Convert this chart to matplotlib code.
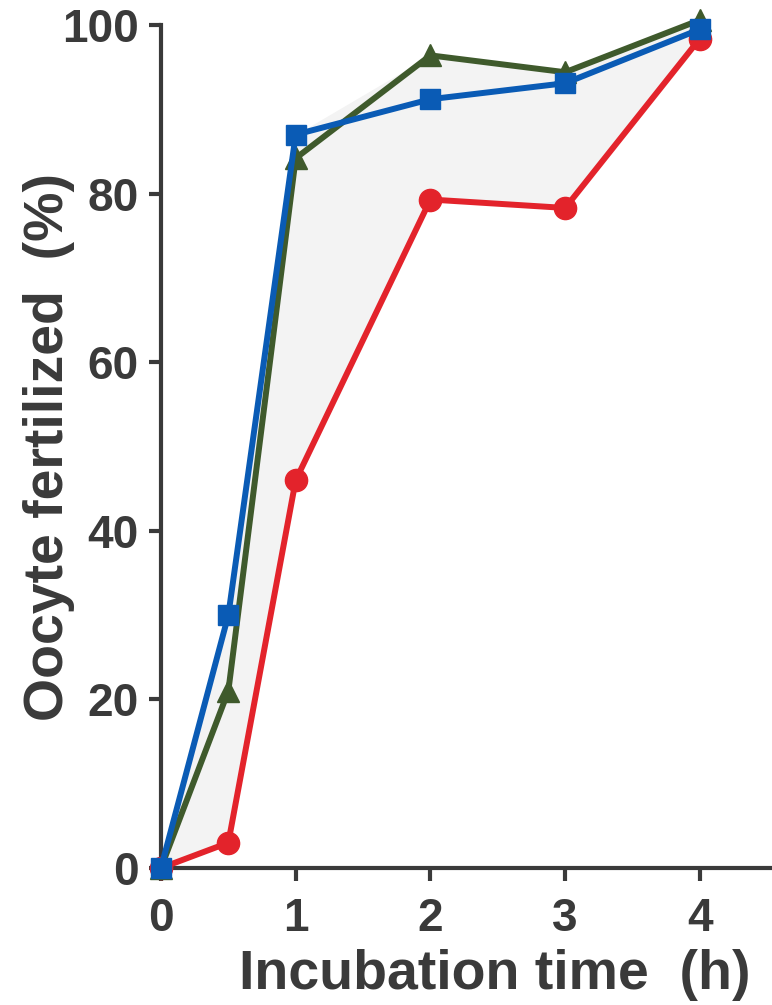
import numpy as np
import matplotlib
matplotlib.use("Agg")
import matplotlib.pyplot as plt

# incubation time (h)
time_h = [0, 0.5, 1, 2, 3, 4]

# oocytes fertilized (%)
red_circle = [0, 3, 46, 79.3, 78.3, 98.4]
green_triangle = [0, 21, 84.2, 96.4, 94.4, 100.6]
blue_square = [0, 30, 87, 91.2, 93.1, 99.5]

x_ticks = [0, 1, 2, 3, 4]
y_ticks = [0, 20, 40, 60, 80, 100]

plt.rcParams['font.family'] = ['Liberation Sans', 'DejaVu Sans']
plt.rcParams['font.weight'] = 'bold'
ink = '#3a3a3a'

fig = plt.figure(figsize=(7.72, 10.05), dpi=100)
ax = fig.add_axes([0.2085, 0.1363, 0.7889, 0.8388])

upper = np.maximum(green_triangle, blue_square)
ax.fill_between(time_h, red_circle, upper, color='#f3f3f3', lw=0, zorder=1)

ax.plot(time_h, red_circle, color='#e3232b', lw=4.3, marker='o', ms=16,
        clip_on=False, zorder=3)
ax.plot(time_h, green_triangle, color='#3f5a2c', lw=4.3, marker='^', ms=16,
        clip_on=False, zorder=4)
ax.plot(time_h, blue_square, color='#0a5bb5', lw=4.3, marker='s', ms=15,
        clip_on=False, zorder=5)

ax.set_xlim(0, 4.52)
ax.set_ylim(0, 100)
ax.set_xticks(x_ticks)
ax.set_yticks(y_ticks)

for side in ['top', 'right']:
    ax.spines[side].set_visible(False)
for side in ['left', 'bottom']:
    ax.spines[side].set_linewidth(3)
    ax.spines[side].set_color(ink)

ax.tick_params(direction='out', length=9, width=3, color=ink,
               labelcolor=ink, labelsize=33)
ax.tick_params(axis='x', pad=12)
ax.tick_params(axis='y', pad=7)

ax.set_xlabel('Incubation time  (h)', fontsize=40, color=ink, fontweight='bold')
ax.set_ylabel('Oocyte fertilized  (%)', fontsize=40, color=ink, fontweight='bold')
ax.xaxis.set_label_coords(0.548, -0.096)
ax.yaxis.set_label_coords(-0.141, 0.5)

fig.savefig('out.png', dpi=100)
